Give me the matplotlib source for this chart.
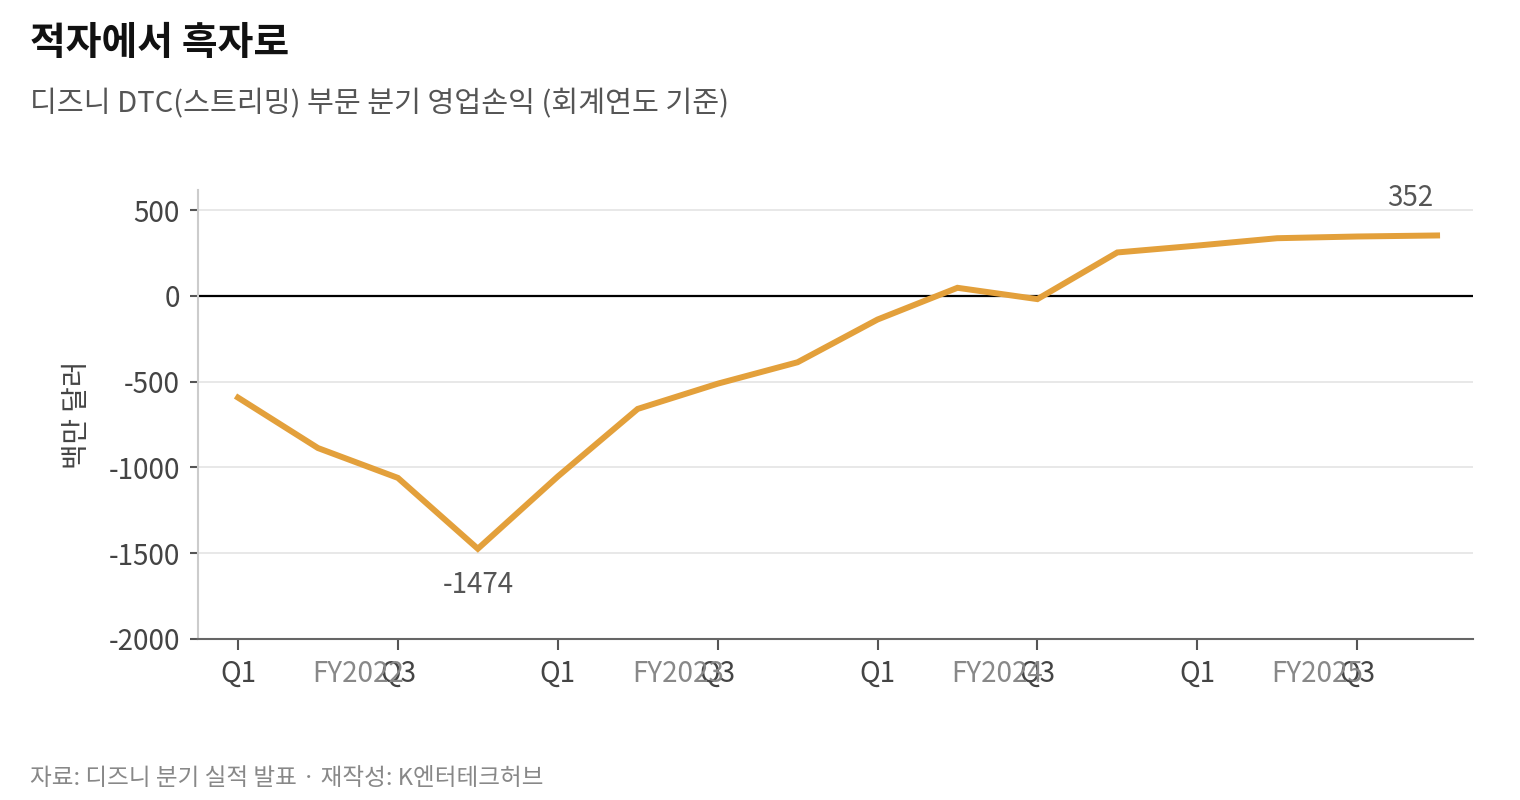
import numpy as np
import matplotlib
matplotlib.use("Agg")
import matplotlib.pyplot as plt
import matplotlib.transforms as mtransforms

plt.rcParams['font.family'] = ['Noto Sans CJK KR', 'DejaVu Sans']

# Disney DTC quarterly operating income (USD millions)
years = ['FY2022', 'FY2023', 'FY2024', 'FY2025']
quarters = ['Q1', 'Q2', 'Q3', 'Q4']
income = [-593, -887, -1061, -1474,
          -1053, -659, -512, -387,
          -138, 47, -19, 253,
          293, 336, 346, 352]
tick_quarters = ['Q1', 'Q3']

line_color = '#E3A03B'
x = np.arange(len(income))

fig = plt.figure(figsize=(15.2, 8), dpi=100)
ax = fig.add_axes([0.1303, 0.20125, 0.8388, 0.56125])

ax.plot(x, income, color=line_color, lw=4.3, solid_joinstyle='miter', zorder=3)
ax.axhline(0, color='black', lw=1.6, zorder=2)

ax.set_ylim(-2000, 617)
ax.set_xlim(-0.5, 15.45)
ax.set_yticks([500, 0, -500, -1000, -1500, -2000])
ax.set_yticklabels(['500', '0', '-500', '-1000', '-1500', '-2000'])
for yv in [500, -500, -1000, -1500]:
    ax.axhline(yv, color='#e4e4e4', lw=1.2, zorder=1)

# x ticks on Q1 and Q3 of every year
xt = [i for i in x if quarters[i % 4] in tick_quarters]
ax.set_xticks(xt)
ax.set_xticklabels([quarters[i % 4] for i in xt])

ax.tick_params(axis='y', labelsize=20, colors='#444444', length=6, width=1.5,
               pad=7, color='#555555')
ax.tick_params(axis='x', labelsize=20, colors='#444444', length=8, width=1.5,
               pad=6.5, color='#555555')

# fiscal year labels centered on each year's quarters
trans = mtransforms.blended_transform_factory(ax.transData, ax.transAxes)
for k, yr in enumerate(years):
    ax.text(4 * k + 1.5, -0.0785, yr, transform=trans, ha='center', va='center',
            fontsize=20, color='#888888')

for side in ['top', 'right']:
    ax.spines[side].set_visible(False)
ax.spines['left'].set_color('#cccccc')
ax.spines['left'].set_linewidth(1.5)
ax.spines['bottom'].set_color('#666666')
ax.spines['bottom'].set_linewidth(1.5)

ax.set_ylabel('백만 달러', fontsize=20, color='#444444', labelpad=12)

# annotate the low and the latest value
i_min = int(np.argmin(income))
ax.annotate(str(income[i_min]), (x[i_min], income[i_min]), xytext=(0, -26),
            textcoords='offset points', ha='center', va='center',
            fontsize=20, color='#555555')
ax.annotate(str(income[-1]), (x[-1], income[-1]), xytext=(-19, 27),
            textcoords='offset points', ha='center', va='center',
            fontsize=20, color='#555555')

fig.text(0.0197, 0.945, '적자에서 흑자로', fontsize=28, fontweight='bold',
         color='#111111', va='center', ha='left')
fig.text(0.0197, 0.869, '디즈니 DTC(스트리밍) 부문 분기 영업손익 (회계연도 기준)',
         fontsize=21, color='#555555', va='center', ha='left')
fig.text(0.0197, 0.0265, '자료: 디즈니 분기 실적 발표 · 재작성: K엔터테크허브',
         fontsize=17, color='#888888', va='center', ha='left')

fig.savefig('out.png', dpi=100)
